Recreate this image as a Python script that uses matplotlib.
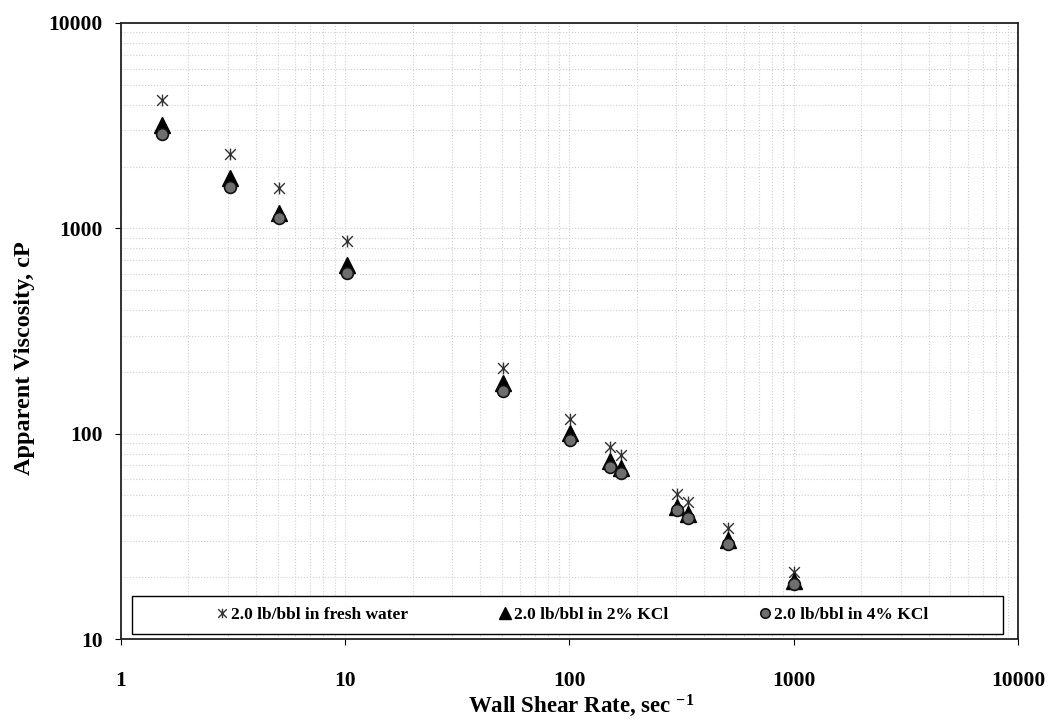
import matplotlib
matplotlib.use("Agg")
import matplotlib.pyplot as plt
from matplotlib.path import Path
from matplotlib.patches import Rectangle
from matplotlib.ticker import FixedLocator, NullFormatter

# shear rate (1/s) and apparent viscosity (cP)
shear_rate = [1.52, 3.07, 5.07, 10.2, 50.7, 101, 151, 169, 303, 337, 507, 1000]
visc_fresh = [4210, 2296, 1566, 865, 210, 118, 86.5, 79, 51, 46.5, 34.8, 21.2]
visc_kcl2 = [3180, 1753, 1183, 661, 177, 101, 73.8, 68, 44, 40.7, 30.4, 19.2]
visc_kcl4 = [2877, 1585, 1120, 603, 162, 93.5, 69, 64.6, 42.6, 38.9, 29.1, 18.5]

labels = ["2.0 lb/bbl in fresh water", "2.0 lb/bbl in 2% KCl", "2.0 lb/bbl in 4% KCl"]
x_ticks = [1, 10, 100, 1000, 10000]
y_ticks = [10, 100, 1000, 10000]

plt.rcParams['font.family'] = ['Liberation Serif', 'DejaVu Serif']
plt.rcParams['font.weight'] = 'bold'
plt.rcParams['mathtext.fontset'] = 'custom'
plt.rcParams['mathtext.rm'] = 'Liberation Serif:bold'
plt.rcParams['mathtext.it'] = 'Liberation Serif:bold'
plt.rcParams['mathtext.bf'] = 'Liberation Serif:bold'

# excel style asterisk: an X with a vertical bar
star = Path([(-1, -1), (1, 1), (-1, 1), (1, -1), (0, -1.1), (0, 1.1)],
            [Path.MOVETO, Path.LINETO, Path.MOVETO, Path.LINETO, Path.MOVETO, Path.LINETO])

fig = plt.figure(figsize=(10.5, 7.21), dpi=100)
ax = fig.add_axes([0.1152, 0.1137, 0.8543, 0.8544])

ax.plot(shear_rate, visc_fresh, linestyle='none', marker=star, markersize=8.5,
        markeredgecolor='#333333', markerfacecolor='none', markeredgewidth=1.0, label=labels[0])
ax.plot(shear_rate, visc_kcl2, linestyle='none', marker='^', markersize=11,
        color='black', label=labels[1])
ax.plot(shear_rate, visc_kcl4, linestyle='none', marker='o', markersize=8.5,
        markerfacecolor='#6e6e6e', markeredgecolor='#111111', markeredgewidth=1.2, label=labels[2])

ax.set_xscale('log')
ax.set_yscale('log')
ax.set_xlim(1, 10000)
ax.set_ylim(10, 10000)
ax.xaxis.set_major_locator(FixedLocator(x_ticks))
ax.yaxis.set_major_locator(FixedLocator(y_ticks))
ax.set_xticklabels([str(t) for t in x_ticks])
ax.set_yticklabels([str(t) for t in y_ticks])
ax.xaxis.set_minor_formatter(NullFormatter())
ax.yaxis.set_minor_formatter(NullFormatter())
ax.tick_params(which='major', direction='out', length=4, width=0.8, labelsize=15.5)
ax.tick_params(axis='x', which='major', pad=19)
ax.tick_params(axis='y', which='major', pad=9)
ax.tick_params(which='minor', length=0)

ax.grid(True, which='both', linestyle=':', linewidth=0.8, color='#d0d0d0')
ax.set_axisbelow(True)
for side in ax.spines.values():
    side.set_linewidth(1.3)
    side.set_color('#222222')

ax.set_xlabel(r'Wall Shear Rate, sec $^{-1}$', fontsize=16.5, fontweight='bold', labelpad=1)
ax.xaxis.label.set_x(0.513)
ax.set_ylabel('Apparent Viscosity, cP', fontsize=17.5, fontweight='bold', labelpad=10)
ax.yaxis.label.set_y(0.456)

# legend box like the excel one, entries centred inside it
ax.add_patch(Rectangle((0.012, 0.008), 0.971, 0.062, transform=ax.transAxes,
                       facecolor='white', edgecolor='black', linewidth=1.0, zorder=4))
leg = ax.legend(loc='center', bbox_to_anchor=(0.5025, 0.039), ncol=3, fontsize=12.5,
                frameon=False, handletextpad=0.1, handlelength=0.8, borderaxespad=0,
                columnspacing=5.2, markerscale=0.8)
leg.set_zorder(5)

fig.savefig('out.png', dpi=100, facecolor='white')
